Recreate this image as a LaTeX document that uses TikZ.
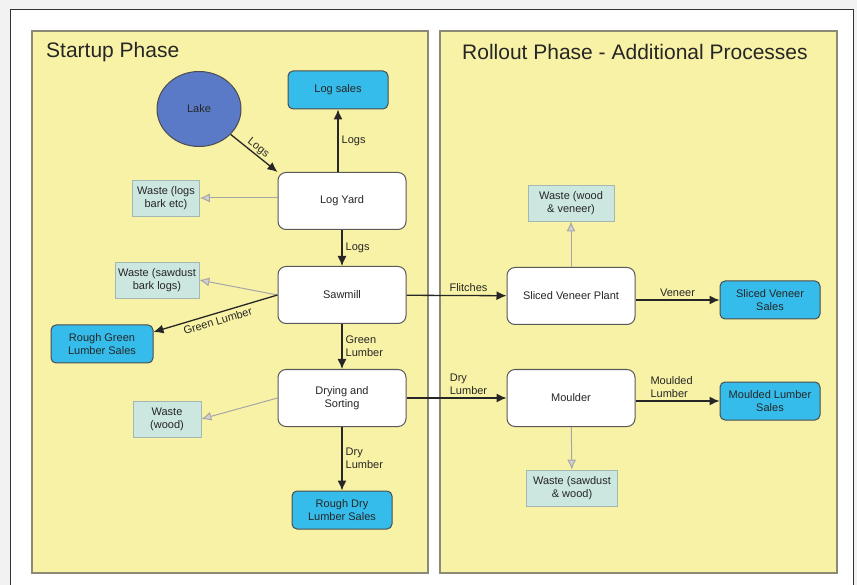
\documentclass[tikz,border=0pt]{standalone}
\usepackage{fontspec}
\setmainfont{Liberation Sans}
\usetikzlibrary{arrows.meta,positioning,shapes}
\definecolor{panelfill}{HTML}{F8F2A6}
\definecolor{panelline}{HTML}{8C8A76}
\definecolor{salefill}{HTML}{35BCEA}
\definecolor{lakefill}{HTML}{5A7AC8}
\definecolor{wastefill}{HTML}{CCE6E0}
\definecolor{wasteline}{HTML}{A3B8B0}
\newcommand{\txt}{\fontsize{11}{13}\selectfont}

\begin{document}
\begin{tikzpicture}[x=1pt,y=-1pt,
    every node/.style={font=\txt,text=black!85,align=center},
    proc/.style={draw=black!65,fill=white,rounded corners=8pt,line width=1pt,
      minimum width=128pt,minimum height=57pt},
    sale/.style={draw=black!70,fill=salefill,rounded corners=5pt,line width=1pt,
      minimum width=100pt,minimum height=38pt},
    wastebox/.style={draw=wasteline,fill=wastefill,line width=.8pt,
      minimum height=36pt,inner sep=2pt},
    lbl/.style={inner sep=3pt,align=left},
    flow/.style={draw=black!85,line width=1.3pt,-{Latex[length=10pt,width=9pt]}},
    wflow/.style={draw=gray!70,line width=1pt,-{Latex[length=10pt,width=9pt,fill=gray!35]}}]
    \useasboundingbox (0,0) rectangle (857,585);

    % frame and panels
    \fill[gray!10] (0,0) rectangle (857,585);
    \fill[white] (10,9) rectangle (853,585);
    \draw[black!80,line width=.8pt] (10,585) -- (10,9) -- (853,9) -- (853,585);
    \draw[panelline,fill=panelfill,line width=1.5pt] (32,31) rectangle (428,573);
    \draw[panelline,fill=panelfill,line width=1.5pt] (440,31) rectangle (837,573);
    \node[anchor=west,inner sep=0pt,font=\fontsize{21}{24}\selectfont] (startup) at (46,52) {Startup Phase};
    \node[anchor=west,inner sep=0pt,font=\fontsize{21}{24}\selectfont] (rollout) at (462,52) {Rollout Phase - Additional Processes};

    % startup phase
    \node[ellipse,draw=black!70,fill=lakefill,line width=1pt,
      minimum width=84pt,minimum height=75pt] (lake) at (199,109) {Lake};
    \node[sale] (logsale) at (338,90) {Log sales};
    \node[proc] (yard) at (342,201) {Log Yard};
    \node[wastebox,minimum width=67pt] (wlogs) at (166,198) {Waste (logs\\bark etc)};
    \node[proc] (saw) at (342,295) {Sawmill};
    \node[wastebox,minimum width=84pt] (wsaw) at (157,280) {Waste (sawdust\\bark logs)};
    \node[sale,minimum width=102pt] (greensale) at (102,344) {Rough Green\\Lumber Sales};
    \node[proc] (dry) at (342,398) {Drying and\\Sorting};
    \node[wastebox,minimum width=68pt] (wwood) at (167,419) {Waste\\(wood)};
    \node[sale] (drysale) at (342,510) {Rough Dry\\Lumber Sales};

    % rollout phase
    \node[wastebox,minimum width=86pt] (wveneer) at (571,203) {Waste (wood\\\& veneer)};
    \node[proc] (veneer) at (571,296) {Sliced Veneer Plant};
    \node[sale] (veneersale) at (770,300) {Sliced Veneer\\Sales};
    \node[proc] (moulder) at (571,398) {Moulder};
    \node[sale] (mouldsale) at (770,401) {Moulded Lumber\\Sales};
    \node[wastebox,minimum width=91pt] (wmould) at (572,488) {Waste (sawdust\\\& wood)};

    % flows
    \draw[flow] (lake) -- node[lbl,sloped,above,inner sep=1pt] {Logs} (yard.north west);
    \draw[flow] (yard.north -| logsale) -- node[lbl,right] {Logs} (logsale);
    \draw[flow] (yard) -- node[lbl,right] {Logs} (saw);
    \draw[wflow] (yard.west |- wlogs) -- (wlogs.east);
    \draw[wflow] (saw.west) -- (wsaw.east);
    \draw[flow] (saw.west) -- node[lbl,sloped,below] {Green Lumber} ([yshift=12pt]greensale.east);
    \draw[flow] (saw) -- node[lbl,right] {Green\\Lumber} (dry);
    \draw[wflow] (dry.west) -- (wwood.east);
    \draw[flow] (dry) -- node[lbl,right] {Dry\\Lumber} (drysale);
    \draw[flow] (saw) -- node[lbl,above,pos=.62] {Flitches} (veneer);
    \draw[flow] (dry) -- node[lbl,above,pos=.62] {Dry\\Lumber} (moulder);
    \draw[flow] (veneer.east |- veneersale) -- node[lbl,above] {Veneer} (veneersale);
    \draw[flow] (moulder.east |- mouldsale) -- node[lbl,above,pos=.43] {Moulded\\Lumber} (mouldsale);
    \draw[wflow] (veneer) -- (wveneer);
    \draw[wflow] (moulder) -- (wmould);
\end{tikzpicture}
\end{document}
